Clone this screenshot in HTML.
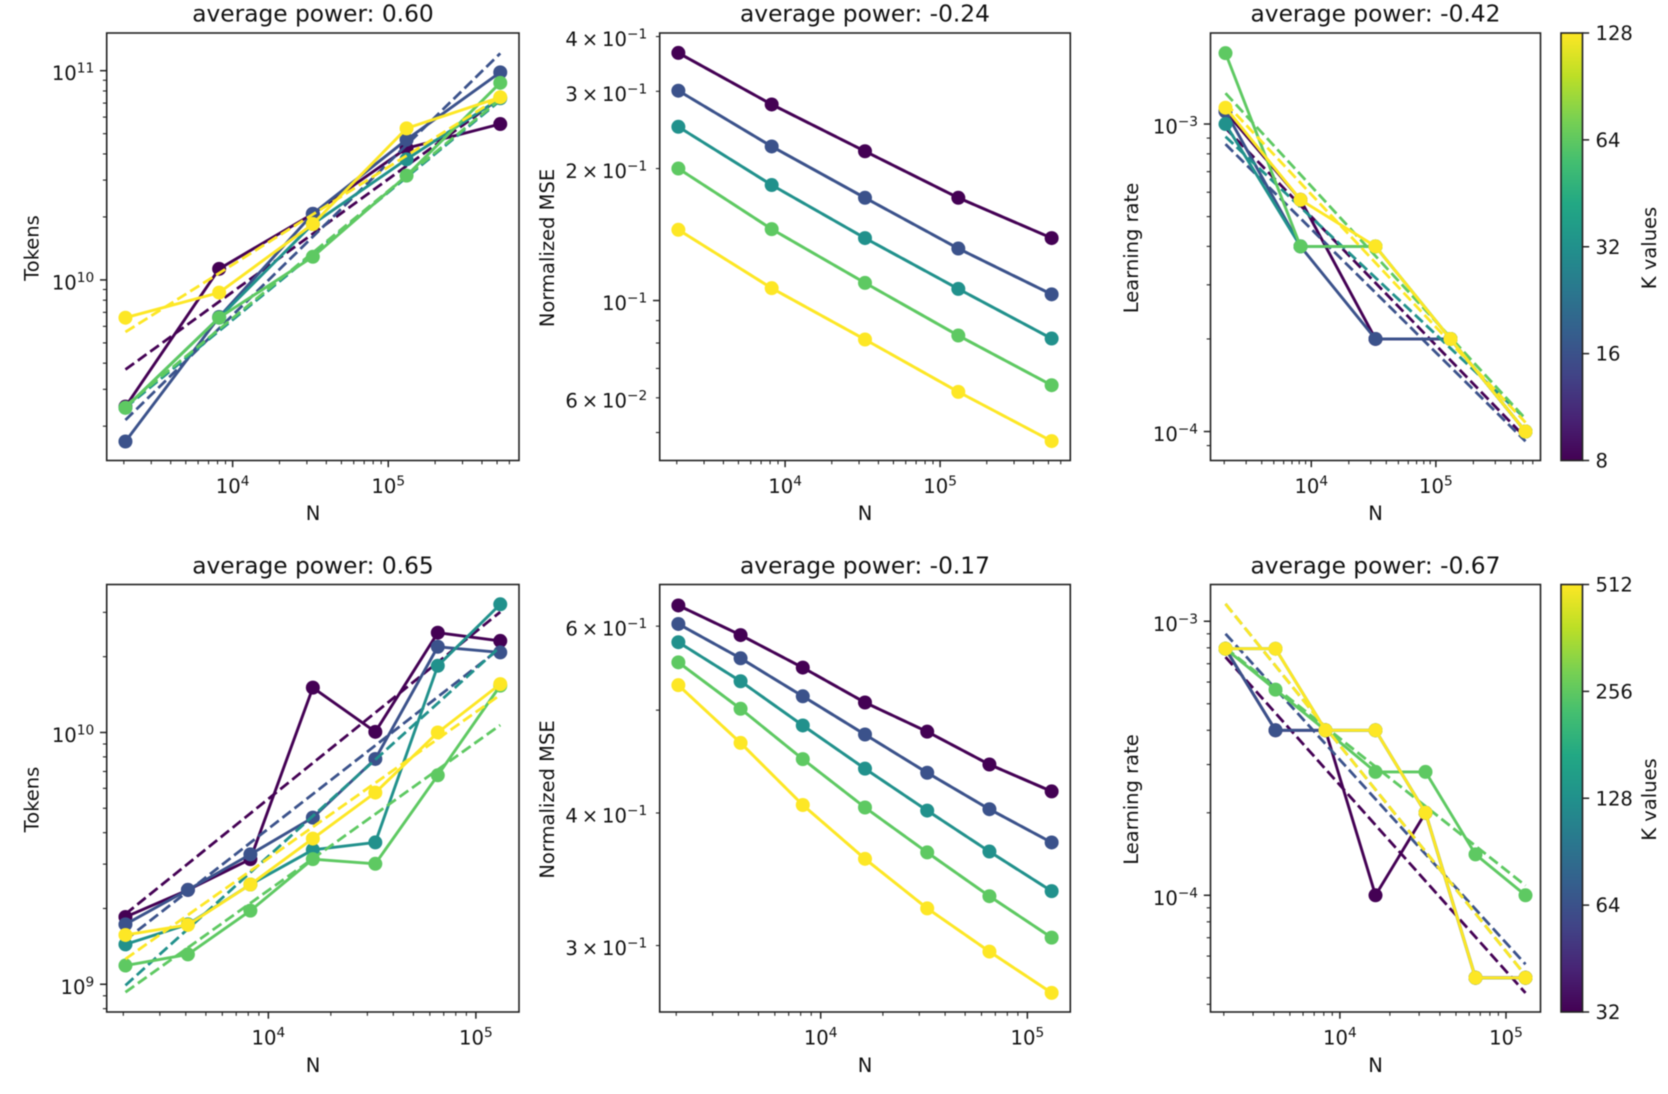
<!DOCTYPE html>
<html lang="en">
<head>
<meta charset="utf-8">
<title>Power-law scaling charts</title>
<style>
html,body{margin:0;padding:0;background:#fff;width:1668px;height:1094px;overflow:hidden}
svg{display:block;filter:blur(0.55px)}
text{font-family:"DejaVu Sans","Liberation Sans",sans-serif;fill:#111}
.title{font-size:23.3px;text-anchor:middle}
.label{font-size:19.5px;text-anchor:middle}
.tick{font-size:19.6px}
.frame{fill:none;stroke:#222;stroke-width:1.6}
</style>
</head>
<body>
<svg xmlns="http://www.w3.org/2000/svg" width="1668" height="1094" viewBox="0 0 1668 1094">
<defs>
<linearGradient id="viridis" x1="0" y1="1" x2="0" y2="0">
<stop offset="0" stop-color="#440154"/><stop offset="0.1" stop-color="#482475"/><stop offset="0.2" stop-color="#414487"/><stop offset="0.3" stop-color="#355f8d"/><stop offset="0.4" stop-color="#2a788e"/><stop offset="0.5" stop-color="#21918c"/><stop offset="0.6" stop-color="#22a884"/><stop offset="0.7" stop-color="#44bf70"/><stop offset="0.8" stop-color="#7ad151"/><stop offset="0.9" stop-color="#bddf26"/><stop offset="1" stop-color="#fde725"/>
</linearGradient>
</defs>
<rect width="1668" height="1094" fill="#fff"/>

<g>
<text class="title" x="313" y="21.5">average power: 0.60</text>
<text class="label" transform="translate(38.5 248) rotate(-90)">Tokens</text>
<text class="label" x="313" y="520">N</text>
<g id="p1"></g>
<rect id="f1" class="frame" x="106.7" y="33" width="412.3" height="427.5"/>
</g>
<g>
<text class="title" x="865" y="21.5">average power: -0.24</text>
<text class="label" transform="translate(554 248) rotate(-90)">Normalized MSE</text>
<text class="label" x="865" y="520">N</text>
<g id="p2"></g>
<rect id="f2" class="frame" x="659.7" y="33" width="410.6" height="427.5"/>
</g>
<g>
<text class="title" x="1375.5" y="21.5">average power: -0.42</text>
<text class="label" transform="translate(1138 248) rotate(-90)">Learning rate</text>
<text class="label" x="1375.5" y="520">N</text>
<g id="p3"></g>
<rect id="f3" class="frame" x="1210.5" y="33" width="330" height="427.5"/>
</g>
<g>
<text class="title" x="313" y="573.5">average power: 0.65</text>
<text class="label" transform="translate(38.5 799.5) rotate(-90)">Tokens</text>
<text class="label" x="313" y="1072">N</text>
<g id="p4"></g>
<rect id="f4" class="frame" x="106.7" y="584.5" width="412.3" height="427.5"/>
</g>
<g>
<text class="title" x="865" y="573.5">average power: -0.17</text>
<text class="label" transform="translate(554 799.5) rotate(-90)">Normalized MSE</text>
<text class="label" x="865" y="1072">N</text>
<g id="p5"></g>
<rect id="f5" class="frame" x="659.7" y="584.5" width="410.6" height="427.5"/>
</g>
<g>
<text class="title" x="1375.5" y="573.5">average power: -0.67</text>
<text class="label" transform="translate(1138 799.5) rotate(-90)">Learning rate</text>
<text class="label" x="1375.5" y="1072">N</text>
<g id="p6"></g>
<rect id="f6" class="frame" x="1210.5" y="584.5" width="330" height="427.5"/>
</g>

<g>
<rect id="c1" x="1561" y="33" width="21.5" height="427.5" fill="url(#viridis)" stroke="#222" stroke-width="1.6"/>
<text class="label" transform="translate(1656 248) rotate(-90)">K values</text>
<g id="c1t"></g>
</g>
<g>
<rect id="c2" x="1561" y="584.5" width="21.5" height="427.5" fill="url(#viridis)" stroke="#222" stroke-width="1.6"/>
<text class="label" transform="translate(1656 799.5) rotate(-90)">K values</text>
<g id="c2t"></g>
</g>
</svg>

<script>
// ---- shared ----
const seriesColors = ['#440154', '#3b528b', '#21918c', '#5ec962', '#fde725'];

// ---- top-left: tokens ----
const p1N = [2048, 8192, 32768, 131072, 524288];
const p1YLim = [1.371e9, 1.514e11];
const p1Values = [
  [2.48e9, 1.13e10, 2.07e10, 4.26e10, 5.56e10],
  [1.69e9, 6.65e9, 2.07e10, 4.68e10, 9.82e10],
  [2.45e9, 6.6e9, 1.85e10, 3.77e10, 7.38e10],
  [2.45e9, 6.6e9, 1.29e10, 3.15e10, 8.75e10],
  [6.6e9, 8.7e9, 1.85e10, 5.3e10, 7.47e10]
];
const p1Fits = [[3.73e9, 7.4e10], [2.14e9, 1.21e11], [2.45e9, 7.2e10], [2.5e9, 7.3e10], [5.64e9, 7.5e10]];
const p1LabeledTicks = [1e10, 1e11];

// ---- top-middle: normalized MSE (fit lines sit on the data) ----
const p2N = [2048, 8192, 32768, 131072, 524288];
const p2YLim = [0.04317, 0.4075];
const p2Values = [
  [0.367, 0.280, 0.219, 0.1715, 0.1388],
  [0.301, 0.2246, 0.1715, 0.1314, 0.1033],
  [0.249, 0.1834, 0.1388, 0.1063, 0.0819],
  [0.2, 0.1455, 0.1097, 0.0832, 0.0641],
  [0.145, 0.1067, 0.0815, 0.0619, 0.0478]
];
const p2Fits = p2Values;
const p2LabeledTicks = [0.4, 0.3, 0.2, 0.1, 0.06];

// ---- top-right: learning rate ----
const p3N = [2048, 8192, 32768, 131072, 524288];
const p3YLim = [8.05e-5, 1.977e-3];
const p3Values = [
  [1.1e-3, 5.67e-4, 2e-4, 2e-4, 1e-4],
  [1.1e-3, 4e-4, 2e-4, 2e-4, 1e-4],
  [1e-3, 4e-4, 4e-4, 2e-4, 1e-4],
  [1.7e-3, 4e-4, 4e-4, 2e-4, 1e-4],
  [1.13e-3, 5.67e-4, 4e-4, 2e-4, 1e-4]
];
const p3Fits = [[9.7e-4, 9.55e-5], [8.6e-4, 9.3e-5], [9.1e-4, 1.1e-4], [1.26e-3, 1.1e-4], [1.17e-3, 1.07e-4]];
const p3LabeledTicks = [1e-4, 1e-3];

// ---- bottom-left: tokens ----
const p4N = [2048, 4096, 8192, 16384, 32768, 65536, 131072];
const p4YLim = [7.76e8, 3.87e10];
const p4Values = [
  [1.85e9, 2.37e9, 3.14e9, 1.507e10, 1.006e10, 2.49e10, 2.31e10],
  [1.73e9, 2.37e9, 3.28e9, 4.59e9, 7.85e9, 2.19e10, 2.08e10],
  [1.44e9, 1.73e9, 2.49e9, 3.42e9, 3.66e9, 1.84e10, 3.23e10],
  [1.187e9, 1.314e9, 1.96e9, 3.14e9, 3.01e9, 6.76e9, 1.535e10],
  [1.57e9, 1.72e9, 2.49e9, 3.79e9, 5.77e9, 1e10, 1.556e10]
];
const p4Fits = [[1.9e9, 3.01e10], [1.5e9, 2.16e10], [9.9e8, 2.19e10], [9.3e8, 1.07e10], [1.26e9, 1.41e10]];
const p4LabeledTicks = [1e9, 1e10];

// ---- bottom-middle: normalized MSE (fit lines sit on the data) ----
const p5N = [2048, 4096, 8192, 16384, 32768, 65536, 131072];
const p5YLim = [0.2597, 0.6568];
const p5Values = [
  [0.6276, 0.5885, 0.5484, 0.5084, 0.4772, 0.4444, 0.4192],
  [0.6029, 0.5596, 0.5153, 0.4743, 0.4365, 0.4033, 0.3752],
  [0.5795, 0.5324, 0.4837, 0.4404, 0.4021, 0.3679, 0.3376],
  [0.5547, 0.5015, 0.4496, 0.4048, 0.3672, 0.3339, 0.3052],
  [0.5279, 0.4657, 0.4070, 0.3621, 0.3252, 0.2961, 0.2707]
];
const p5Fits = p5Values;
const p5LabeledTicks = [0.6, 0.4, 0.3];

// ---- bottom-right: learning rate ----
const p6N = [2048, 4096, 8192, 16384, 32768, 65536, 131072];
const p6YLim = [3.75e-5, 1.362e-3];
const p6Values = [
  [7.94e-4, 4e-4, 4e-4, 1e-4, 2e-4, 5e-5, 5e-5],
  [7.94e-4, 4e-4, 4e-4, 4e-4, 2e-4, 5e-5, 5e-5],
  [7.94e-4, 7.94e-4, 4e-4, 4e-4, 2e-4, 5e-5, 5e-5],
  [7.94e-4, 5.63e-4, 4e-4, 2.82e-4, 2.82e-4, 1.41e-4, 1e-4],
  [7.94e-4, 7.94e-4, 4e-4, 4e-4, 2e-4, 5e-5, 5e-5]
];
const p6Fits = [[7.4e-4, 4.4e-5], [9e-4, 5.6e-5], [1.157e-3, 5.1e-5], [8e-4, 1.085e-4], [1.157e-3, 5.1e-5]];
const p6LabeledTicks = [1e-4, 1e-3];

// ---- colorbars ----
const colorbarTopTicks = [8, 16, 32, 64, 128];
const colorbarBottomTicks = [32, 64, 128, 256, 512];

const SVGNS = 'http://www.w3.org/2000/svg';
function make(tag, geometry) {
  const el = document.createElementNS(SVGNS, tag);
  for (const k in geometry) el.setAttribute(k, geometry[k]);
  return el;
}
function logScale(lo, hi, a, b) {
  const l0 = Math.log10(lo), l1 = Math.log10(hi);
  return v => a + (Math.log10(v) - l0) / (l1 - l0) * (b - a);
}
function marginLim(arr) {
  const l0 = Math.log10(Math.min(...arr)), l1 = Math.log10(Math.max(...arr));
  const m = (l1 - l0) * 0.05;
  return [Math.pow(10, l0 - m), Math.pow(10, l1 + m)];
}
function isClose(a, b) { return Math.abs(a - b) / b < 1e-6; }
function logTicks(lo, hi) {
  const out = [];
  for (let e = Math.floor(Math.log10(lo)); e <= Math.ceil(Math.log10(hi)); e++) {
    for (let m = 1; m < 10; m++) {
      const v = m * Math.pow(10, e);
      if (v >= lo && v <= hi) out.push({ v: v, m: m, e: e });
    }
  }
  return out;
}
function fillLabel(t, m, e) {
  const exp = String(e).replace('-', '\u2212');
  const base = m === 1 ? '10' : m + '\u2009\u00d7\u200910';
  const main = document.createElementNS(SVGNS, 'tspan');
  main.textContent = base;
  const sup = document.createElementNS(SVGNS, 'tspan');
  sup.setAttribute('dy', '-7.5');
  sup.setAttribute('font-size', '13.7');
  sup.textContent = exp;
  t.appendChild(main);
  t.appendChild(sup);
}
function drawPanel(gId, frameId, N, yLim, values, fits, labeled) {
  const g = document.getElementById(gId);
  const fr = document.getElementById(frameId);
  const fx = +fr.getAttribute('x'), fy = +fr.getAttribute('y');
  const fw = +fr.getAttribute('width'), fh = +fr.getAttribute('height');
  const xLim = marginLim(N);
  const X = logScale(xLim[0], xLim[1], fx, fx + fw);
  const Y = logScale(yLim[0], yLim[1], fy + fh, fy);

  logTicks(xLim[0], xLim[1]).forEach(t => {
    const major = t.m === 1;
    const px = X(t.v);
    const line = make('line', { x1: px, x2: px, y1: fy + fh, y2: fy + fh + (major ? 6.7 : 3.8), stroke: '#222', 'stroke-width': major ? 1.5 : 1.1 });
    
    
    g.appendChild(line);
    if (major) {
      const label = make('text', { class: 'tick', x: px, y: fy + fh + 32.5, 'text-anchor': 'middle' });
      
      
      fillLabel(label, t.m, t.e);
      g.appendChild(label);
    }
  });
  logTicks(yLim[0], yLim[1]).forEach(t => {
    const major = t.m === 1;
    const py = Y(t.v);
    const line = make('line', { x1: fx, x2: fx - (major ? 6.7 : 3.8), y1: py, y2: py, stroke: '#222', 'stroke-width': major ? 1.5 : 1.1 });
    
    
    g.appendChild(line);
    if (labeled.some(v => isClose(v, t.v))) {
      const label = make('text', { class: 'tick', x: fx - 12.5, y: py + 9.5, 'text-anchor': 'end' });
      
      
      fillLabel(label, t.m, t.e);
      g.appendChild(label);
    }
  });
  values.forEach((row, i) => {
    const color = seriesColors[i];
    const fitRow = fits[i];
    const fitN = fitRow.length === N.length ? N : [N[0], N[N.length - 1]];
    const fitPts = fitRow.map((v, j) => X(fitN[j]).toFixed(2) + ',' + Y(v).toFixed(2)).join(' ');
    const fit = make('polyline', { points: fitPts, fill: 'none', stroke: color, 'stroke-width': 2.8, 'stroke-dasharray': '10.7 4.6' });
    
    
    g.appendChild(fit);
    const pts = row.map((v, j) => X(N[j]).toFixed(2) + ',' + Y(v).toFixed(2)).join(' ');
    const line = make('polyline', { points: pts, fill: 'none', stroke: color, 'stroke-width': 2.9, 'stroke-linejoin': 'round' });
    
    
    g.appendChild(line);
    row.forEach((v, j) => {
      const dot = make('circle', { cx: X(N[j]), cy: Y(v), r: 7, fill: color });
      
      
      g.appendChild(dot);
    });
  });
}
function drawColorbar(rectId, gId, ticks) {
  const r = document.getElementById(rectId);
  const g = document.getElementById(gId);
  const x = +r.getAttribute('x') + +r.getAttribute('width');
  const y = +r.getAttribute('y'), h = +r.getAttribute('height');
  const S = logScale(ticks[0], ticks[ticks.length - 1], y + h, y);
  ticks.forEach(v => {
    const py = S(v);
    const line = make('line', { x1: x, x2: x + 6.7, y1: py, y2: py, stroke: '#222', 'stroke-width': 1.5 });
    
    
    g.appendChild(line);
    const label = make('text', { class: 'tick', x: x + 13, y: py + 7 });
    
    
    label.textContent = String(v);
    g.appendChild(label);
  });
}
drawPanel('p1', 'f1', p1N, p1YLim, p1Values, p1Fits, p1LabeledTicks);
drawPanel('p2', 'f2', p2N, p2YLim, p2Values, p2Fits, p2LabeledTicks);
drawPanel('p3', 'f3', p3N, p3YLim, p3Values, p3Fits, p3LabeledTicks);
drawPanel('p4', 'f4', p4N, p4YLim, p4Values, p4Fits, p4LabeledTicks);
drawPanel('p5', 'f5', p5N, p5YLim, p5Values, p5Fits, p5LabeledTicks);
drawPanel('p6', 'f6', p6N, p6YLim, p6Values, p6Fits, p6LabeledTicks);
drawColorbar('c1', 'c1t', colorbarTopTicks);
drawColorbar('c2', 'c2t', colorbarBottomTicks);
</script>
</body>
</html>
